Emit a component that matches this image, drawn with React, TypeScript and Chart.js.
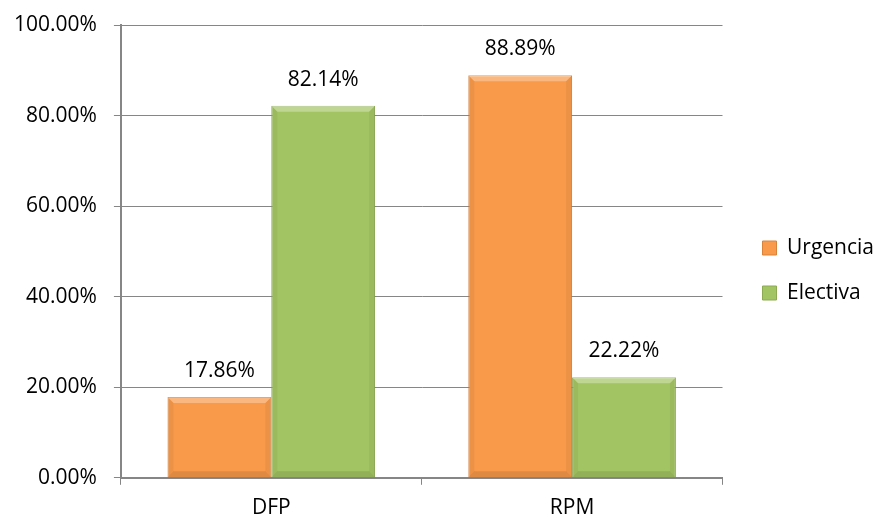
import React, { useEffect, useRef } from "react";
import { Chart, registerables } from "chart.js";

Chart.register(...registerables);

const categories = ["DFP", "RPM"];
const seriesNames = ["Urgencia", "Electiva"];
const urgencia = [17.86, 88.89];
const electiva = [82.14, 22.22];
const yTicks = [0, 20, 40, 60, 80, 100];

const FONT = "'Open Sans', Lato, sans-serif";
const FS = 21;
const ORANGE = "#F89A4A";
const GREEN = "#A3C462";

const bevelPlugin = {
  id: "bevel",
  afterDatasetsDraw(chart: any) {
    const ctx = chart.ctx;
    chart.data.datasets.forEach((ds: any, di: number) => {
      const meta = chart.getDatasetMeta(di);
      meta.data.forEach((bar: any) => {
        const left = bar.x - bar.width / 2;
        const right = bar.x + bar.width / 2;
        const top = bar.y;
        const bottom = bar.base;
        const b = Math.min(6, (bottom - top) / 3);
        ctx.save();
        ctx.fillStyle = "rgba(255,255,255,0.30)";
        ctx.beginPath();
        ctx.moveTo(left, top);
        ctx.lineTo(right, top);
        ctx.lineTo(right - b, top + b);
        ctx.lineTo(left + b, top + b);
        ctx.closePath();
        ctx.fill();
        ctx.fillStyle = "rgba(0,0,0,0.05)";
        ctx.beginPath();
        ctx.moveTo(left, top);
        ctx.lineTo(left + b, top + b);
        ctx.lineTo(left + b, bottom - b);
        ctx.lineTo(left, bottom);
        ctx.closePath();
        ctx.fill();
        ctx.beginPath();
        ctx.moveTo(right, top);
        ctx.lineTo(right - b, top + b);
        ctx.lineTo(right - b, bottom - b);
        ctx.lineTo(right, bottom);
        ctx.closePath();
        ctx.fill();
        ctx.fillStyle = "rgba(0,0,0,0.10)";
        ctx.beginPath();
        ctx.moveTo(left, bottom);
        ctx.lineTo(left + b, bottom - b);
        ctx.lineTo(right - b, bottom - b);
        ctx.lineTo(right, bottom);
        ctx.closePath();
        ctx.fill();
        ctx.restore();
      });
    });
  },
};

const labelPlugin = {
  id: "valueLabels",
  afterDatasetsDraw(chart: any) {
    const ctx = chart.ctx;
    ctx.save();
    ctx.font = `${FS}px ${FONT}`;
    ctx.fillStyle = "#000";
    ctx.textAlign = "center";
    ctx.textBaseline = "middle";
    chart.data.datasets.forEach((ds: any, di: number) => {
      const meta = chart.getDatasetMeta(di);
      meta.data.forEach((bar: any, i: number) => {
        const v = ds.data[i] as number;
        ctx.fillText(v.toFixed(2) + "%", bar.x, bar.y - 26);
      });
    });
    ctx.restore();
  },
};

const legendShift = {
  id: "legendShift",
  afterLayout(chart: any) {
    const lg = chart.legend;
    if (lg) {
      lg.left += 16;
      lg.right += 16;
      lg.top -= 8;
      lg.bottom -= 8;
    }
  },
};

export default function App() {
  const ref = useRef<HTMLCanvasElement | null>(null);
  useEffect(() => {
    if (!ref.current) return;
    const chart = new Chart(ref.current, {
      type: "bar",
      data: {
        labels: categories,
        datasets: [
          {
            label: seriesNames[0],
            data: urgencia,
            backgroundColor: ORANGE,
            borderColor: "#D9823A",
            borderWidth: 1,
          },
          {
            label: seriesNames[1],
            data: electiva,
            backgroundColor: GREEN,
            borderColor: "#8CAA52",
            borderWidth: 1,
          },
        ],
      },
      options: {
        animation: false,
        responsive: false,
        maintainAspectRatio: false,
        datasets: {
          bar: { categoryPercentage: 0.69, barPercentage: 1 },
        },
        layout: { padding: { left: -3, top: 25, right: 6, bottom: -14 } },
        plugins: {
          legend: {
            position: "right",
            labels: {
              boxWidth: 14,
              boxHeight: 14,
              padding: 24,
              color: "#000",
              font: { family: FONT, size: FS },
            },
          },
          tooltip: { enabled: false },
        },
        scales: {
          x: {
            grid: {
              offset: true,
              drawOnChartArea: false,
              color: "#868686",
              tickLength: 7,
            },
            border: { color: "#868686", width: 2 },
            ticks: {
              color: "#000",
              padding: 11,
              font: { family: FONT, size: FS },
            },
          },
          y: {
            min: 0,
            max: 100,
            afterBuildTicks(axis: any) {
              axis.ticks = yTicks.map((v) => ({ value: v }));
            },
            afterFit(axis: any) {
              axis.paddingTop = 0;
              axis.paddingBottom = 0;
            },
            grid: { color: "#868686", tickLength: 7 },
            border: { color: "#868686", width: 2 },
            ticks: {
              color: "#000",
              padding: 17,
              font: { family: FONT, size: FS },
              callback: (v: any) => Number(v).toFixed(2) + "%",
            },
          },
        },
      },
      plugins: [bevelPlugin, labelPlugin, legendShift],
    });
    return () => chart.destroy();
  }, []);
  return (
    <div style={{ position: "absolute", left: 0, top: 0, width: 874, height: 518, background: "#fff" }}>
      <canvas ref={ref} width={874} height={518} />
    </div>
  );
}
